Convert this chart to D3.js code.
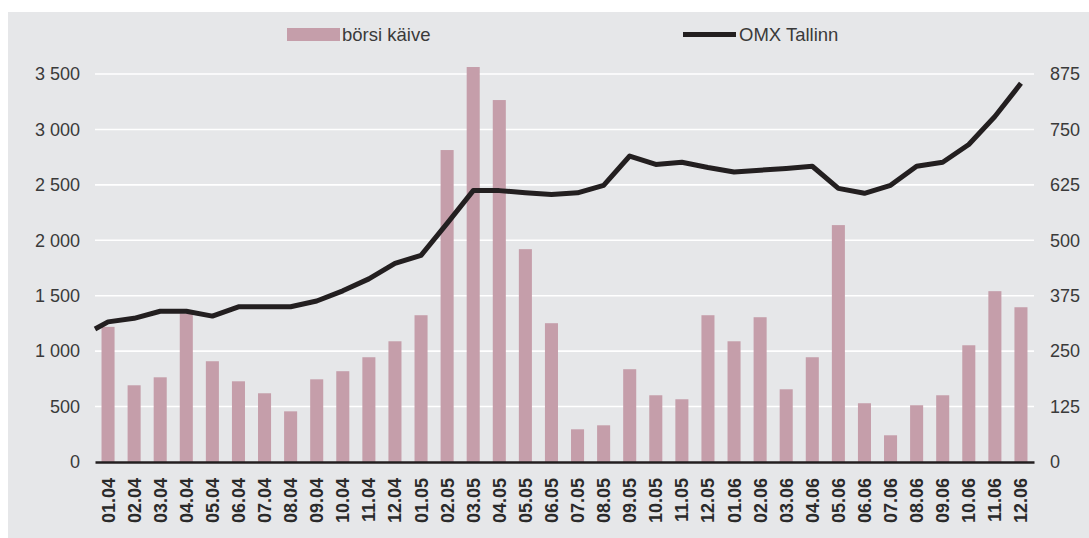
<!DOCTYPE html>
<html>
<head>
<meta charset="utf-8">
<script src="https://cdn.jsdelivr.net/npm/d3@7"></script>
<style>
  body { margin: 0; background: #fff; }
  text { font-family: "Liberation Sans", Arial, sans-serif; }
</style>
</head>
<body>
<div id="chart"></div>
<script>
// months (mm.yy)
var months = ["01.04","02.04","03.04","04.04","05.04","06.04","07.04","08.04","09.04","10.04","11.04","12.04",
              "01.05","02.05","03.05","04.05","05.05","06.05","07.05","08.05","09.05","10.05","11.05","12.05",
              "01.06","02.06","03.06","04.06","05.06","06.06","07.06","08.06","09.06","10.06","11.06","12.06"];

// börsi käive (left axis)
var turnover = [1219, 692, 764, 1340, 909, 728, 620, 457, 746, 819, 945, 1089,
                1324, 2814, 3563, 3265, 1920, 1252, 295, 331, 837, 602, 566, 1324,
                1089, 1306, 656, 945, 2137, 530, 241, 512, 602, 1053, 1541, 1396];

// OMX Tallinn (right axis)
var omxStart = 300;
var omx = [316, 324, 340, 340, 329, 350, 350, 350, 363, 386, 413, 448,
           466, 538, 612, 612, 607, 603, 607, 624, 690, 671, 676, 664,
           654, 658, 662, 667, 617, 606, 624, 667, 676, 716, 779, 854];

var leftTicks = [0, 500, 1000, 1500, 2000, 2500, 3000, 3500];
var rightTicks = [0, 125, 250, 375, 500, 625, 750, 875];

var svgWidth = 1089;
var svgHeight = 538;

var margin = { top: 74, right: 55, bottom: 76, left: 95 };
var width = svgWidth - margin.left - margin.right;
var height = svgHeight - margin.top - margin.bottom;

var svg = d3.select("#chart")
    .append("svg")
    .attr("width", svgWidth)
    .attr("height", svgHeight);

// grey panel
svg.append("rect")
    .attr("x", 8)
    .attr("y", 12)
    .attr("width", svgWidth - 8)
    .attr("height", svgHeight - 12)
    .attr("fill", "#e6e7e9");

var chartGroup = svg.append("g")
    .attr("transform", `translate(${margin.left}, ${margin.top})`);

// scales
var x = d3.scaleBand()
    .domain(months)
    .range([0, width])
    .paddingInner(0.5)
    .paddingOuter(0.25);

var yLeft = d3.scaleLinear()
    .domain([0, 3500])
    .range([height, 0]);

var yRight = d3.scaleLinear()
    .domain([0, 875])
    .range([height, 0]);

var fmt = function (d) { return d3.format(",")(d).replace(/,/g, " "); };

// gridlines
chartGroup.selectAll(".grid")
    .data(leftTicks.slice(1))
    .enter()
    .append("line")
    .attr("x1", 0)
    .attr("x2", width)
    .attr("y1", d => yLeft(d))
    .attr("y2", d => yLeft(d))
    .attr("stroke", "#fff")
    .attr("stroke-width", 1.6);

// axes
var leftAxis = d3.axisLeft(yLeft).tickValues(leftTicks).tickFormat(fmt).tickSize(0).tickPadding(15);
var rightAxis = d3.axisRight(yRight).tickValues(rightTicks).tickSize(0).tickPadding(16);
var bottomAxis = d3.axisBottom(x).tickSize(0);

var gl = chartGroup.append("g").call(leftAxis);
var gr = chartGroup.append("g").attr("transform", `translate(${width}, 0)`).call(rightAxis);
[gl, gr].forEach(function (g) {
    g.select(".domain").remove();
    g.selectAll("text")
        .style("font-size", "18px")
        .attr("fill", "#3a3a3a");
});

// bars
chartGroup.selectAll(".bar")
    .data(turnover)
    .enter()
    .append("rect")
    .attr("class", "bar")
    .attr("x", (d, i) => x(months[i]))
    .attr("width", x.bandwidth())
    .attr("y", d => yLeft(d))
    .attr("height", d => height - yLeft(d))
    .attr("fill", "#c59eaa");

// baseline + month labels
var gb = chartGroup.append("g")
    .attr("transform", `translate(0, ${height})`)
    .call(bottomAxis);
gb.select(".domain")
    .attr("stroke", "#231f20")
    .attr("stroke-width", 2.5);
gb.selectAll("text")
    .attr("transform", "rotate(-90)")
    .attr("x", -16)
    .attr("y", 0)
    .attr("dy", "0.36em")
    .style("text-anchor", "end")
    .style("font-size", "18px")
    .style("font-weight", "bold")
    .attr("fill", "#2a2a2a");

// OMX line
var linePts = [[0, omxStart]].concat(omx.map((d, i) => [x(months[i]) + x.bandwidth() / 2, d]));
chartGroup.append("path")
    .datum(linePts)
    .attr("fill", "none")
    .attr("stroke", "#231f20")
    .attr("stroke-width", 5)
    .attr("stroke-linejoin", "round")
    .attr("d", d3.line().x(d => d[0]).y(d => yRight(d[1])));

// legend
var legend = svg.append("g");
legend.append("rect")
    .attr("x", 287)
    .attr("y", 28)
    .attr("width", 53)
    .attr("height", 13)
    .attr("fill", "#c59eaa");
legend.append("text")
    .attr("x", 342)
    .attr("y", 40.5)
    .style("font-size", "18.5px")
    .attr("fill", "#3a3a3a")
    .text("börsi käive");
legend.append("line")
    .attr("x1", 683)
    .attr("x2", 736)
    .attr("y1", 34.5)
    .attr("y2", 34.5)
    .attr("stroke", "#231f20")
    .attr("stroke-width", 5);
legend.append("text")
    .attr("x", 739)
    .attr("y", 40.5)
    .style("font-size", "18.5px")
    .attr("fill", "#3a3a3a")
    .text("OMX Tallinn");
</script>
</body>
</html>
